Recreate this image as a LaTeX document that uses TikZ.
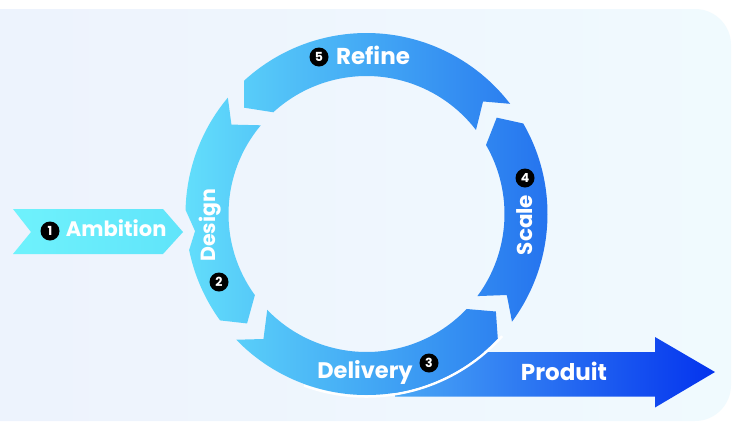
\documentclass[tikz,border=0pt]{standalone}
\usepackage{fontspec}
\newfontfamily\pop{Poppins}
\definecolor{bgL}{HTML}{EDF2FD}
\definecolor{bgR}{HTML}{F0FAFE}
\definecolor{ringL}{HTML}{62DEFB}
\definecolor{ringR}{HTML}{2370EE}
\definecolor{ambL}{HTML}{6FF2FC}
\definecolor{ambR}{HTML}{60E4FA}
\definecolor{prodL}{HTML}{4AA8F5}
\definecolor{prodR}{HTML}{0433EE}
\tikzset{
  lbl/.style={text=white, inner sep=0pt, anchor=base},
  fs/.style={font=\pop\bfseries\fontsize{#1}{#1}\selectfont},
  numdot/.style={circle, fill=black, minimum size=19pt, inner sep=0pt, text=white,
    font=\pop\bfseries\fontsize{12.5}{12.5}\selectfont},
}
\begin{document}
\begin{tikzpicture}[x=1pt,y=-1pt]
\useasboundingbox (0,0) rectangle (733,421);
\fill[white] (0,0) rectangle (733,421);
\shade[left color=bgL, right color=bgR, rounded corners=36pt] (-60,9) rectangle (731,421);
% Ambition chevron
\shade[left color=ambL, right color=ambR] (13,209) -- (163,209) -- (183,232) -- (163,254) -- (13,254) -- (31,232) -- cycle;
% Produit arrow
\shade[left color=prodL, right color=prodR] (395,352) -- (655,352) -- (655,337) -- (715,372) -- (655,407.5) -- (655,396.5) -- (395,396.5) -- cycle;
\begin{scope}[shift={(366.5,214)}, yscale=-1]
  \draw[white, line width=2.5pt] (250:182.5) arc[start angle=250, end angle=318, radius=182.5];
  \shade[left color=ringL, right color=ringR]
    % Design
    (140:181) arc[start angle=140, end angle=178.7, radius=181] -- (185.7:172.3) -- (191.5:181)
      arc[start angle=191.5, end angle=216, radius=181] -- (222.5:162) -- (216:138)
      arc[start angle=216, end angle=140, radius=138] -- (146.5:162) -- cycle
    % Delivery
    (224:181) arc[start angle=224, end angle=316.5, radius=181] -- (323:162) -- (316.5:138)
      arc[start angle=316.5, end angle=224, radius=138] -- (230.5:162) -- cycle
    % Scale
    (323.5:181) arc[start angle=323.5, end angle=390, radius=181] -- (396.5:162) -- (390:138)
      arc[start angle=390, end angle=323.5, radius=138] -- (330:162) -- cycle
    % Refine
    (397.5:181) arc[start angle=397.5, end angle=492.5, radius=181] -- (499:162) -- (492.5:138)
      arc[start angle=492.5, end angle=397.5, radius=138] -- (404:162) -- cycle;
\end{scope}
% labels
\node[lbl, fs=21] (ambition) at (116.2,236.5) {Ambition};
\node[numdot] (n1) at (50,231) {1};
\node[lbl, fs=20.5, rotate=90] (design) at (215,225.5) {Design};
\node[numdot] (n2) at (219,282) {2};
\node[lbl, fs=22.5] (delivery) at (365,378) {Delivery};
\node[numdot] (n3) at (429,363) {3};
\node[lbl, fs=21.5, rotate=90] (scale) at (532.7,225) {Scale};
\node[numdot] (n4) at (525,178) {4};
\node[lbl, fs=23] (refine) at (373,64.5) {Refine};
\node[numdot] (n5) at (319,57) {5};
\node[lbl, fs=23] (produit) at (564,380.5) {Produit};
\end{tikzpicture}
\end{document}
